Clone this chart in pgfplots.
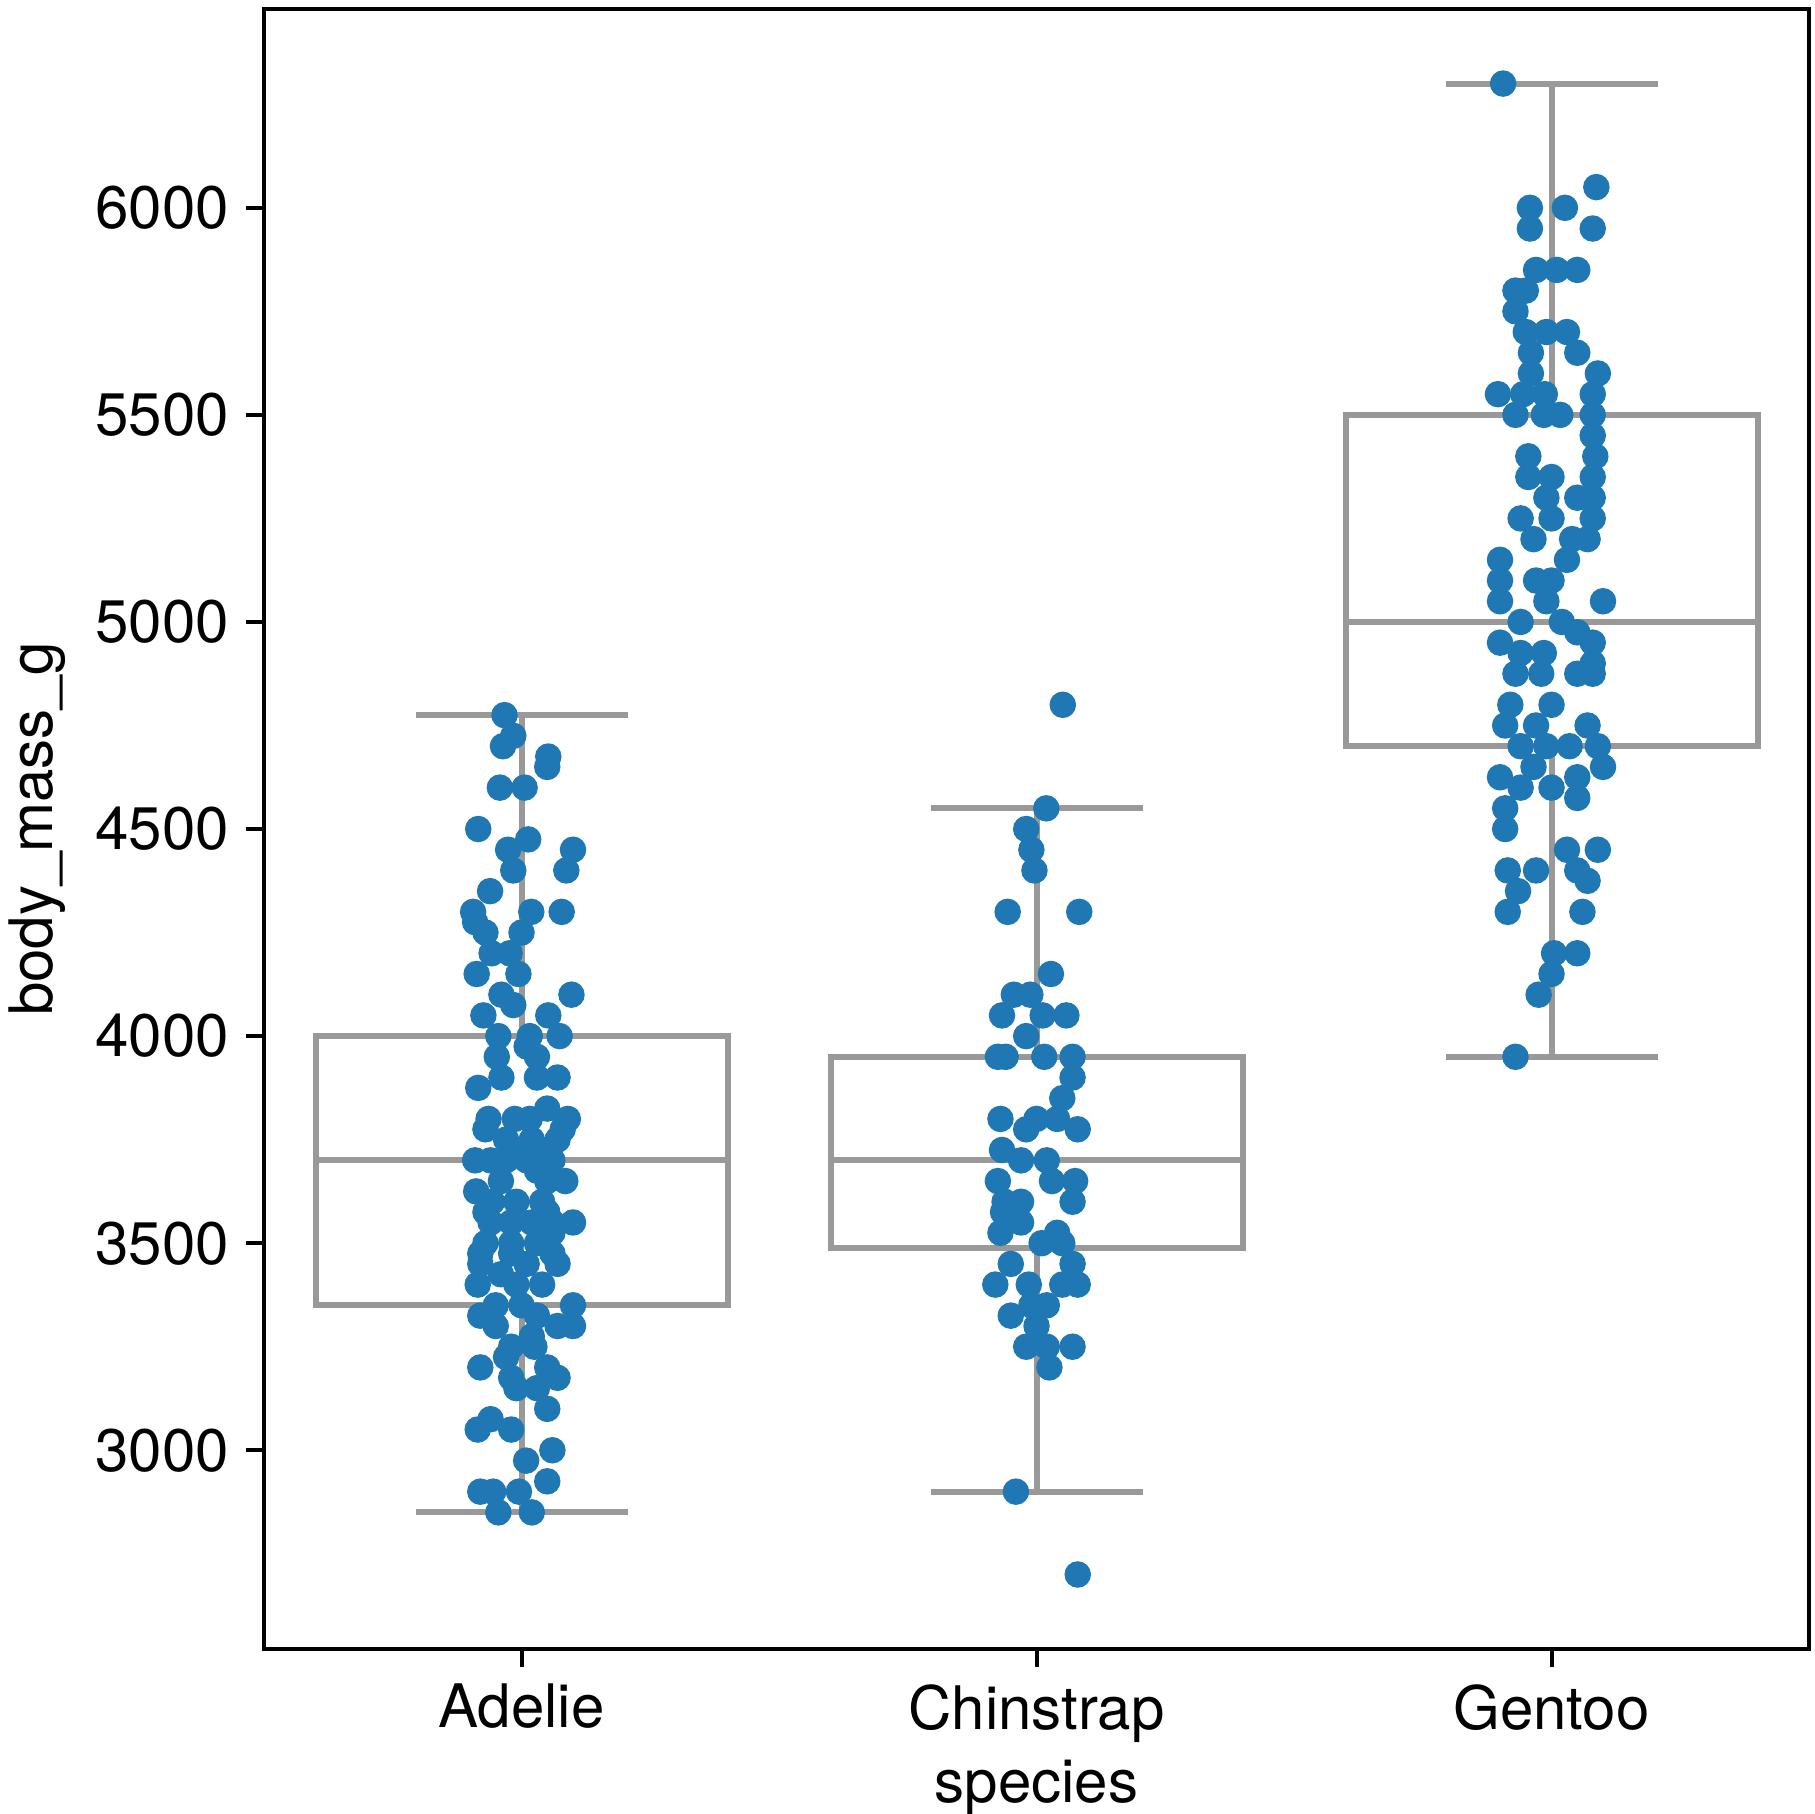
\documentclass[border=0pt]{standalone}
\usepackage{pgfplots}
\usepackage{pgfplotstable}
\pgfplotsset{compat=1.18}
\usepackage{fontspec}
\setmainfont{TeX Gyre Heros}
\definecolor{sbblue}{HTML}{1F77B4}
\definecolor{boxgray}{HTML}{999999}

\pgfplotstableread{
x y
-0.033 4775
-0.016 4725
-0.036 4700
0.052 4675
0.050 4650
-0.042 4600
0.006 4600
-0.084 4500
0.013 4475
-0.026 4450
0.100 4450
-0.016 4400
0.087 4400
-0.061 4350
-0.094 4300
0.019 4300
0.078 4300
-0.090 4275
-0.070 4250
0.000 4250
-0.058 4200
-0.023 4200
-0.087 4150
-0.006 4150
-0.039 4100
0.097 4100
-0.016 4075
-0.074 4050
0.052 4050
-0.045 4000
0.016 4000
0.074 4000
-0.048 3950
-0.039 3900
0.010 3975
0.030 3950
0.030 3900
0.070 3900
-0.084 3875
0.050 3825
-0.064 3800
-0.013 3800
0.016 3800
0.090 3800
-0.070 3775
0.080 3775
0.020 3750
0.070 3750
-0.030 3750
0.040 3725
-0.010 3725
-0.090 3700
-0.060 3700
-0.030 3700
0.010 3700
0.060 3700
0.030 3675
0.085 3650
-0.040 3650
0.050 3650
-0.088 3625
-0.057 3600
-0.010 3600
0.040 3600
-0.070 3575
0.050 3575
-0.060 3550
-0.020 3550
0.020 3550
0.100 3550
0.060 3550
0.060 3525
-0.070 3500
-0.020 3500
0.030 3500
-0.080 3475
0.060 3475
-0.020 3475
-0.080 3450
0.010 3450
0.070 3450
-0.040 3425
-0.085 3400
-0.010 3400
0.040 3400
-0.050 3350
0.000 3350
0.100 3350
-0.080 3325
0.030 3325
-0.050 3300
0.070 3300
0.100 3300
0.020 3275
-0.020 3250
0.025 3250
-0.030 3225
-0.080 3200
0.050 3200
-0.020 3175
0.070 3175
-0.010 3150
0.030 3150
0.050 3100
-0.060 3075
-0.085 3050
-0.020 3050
0.060 3000
0.009 2975
0.050 2925
-0.080 2900
-0.055 2900
-0.005 2900
-0.045 2850
0.020 2850
}\adelie

\pgfplotstableread{
x y
1.051 4800
1.019 4550
0.980 4500
0.990 4450
0.996 4400
0.944 4300
1.083 4300
1.028 4150
0.956 4100
0.988 4100
0.933 4050
1.012 4050
1.058 4050
0.980 4000
0.925 3950
0.940 3950
1.015 3950
1.070 3950
1.070 3900
1.050 3850
0.930 3800
1.000 3800
1.040 3800
1.080 3775
0.980 3775
0.933 3725
0.970 3700
1.020 3700
0.925 3650
1.030 3650
1.075 3650
0.938 3600
0.970 3600
1.070 3600
0.935 3575
0.970 3550
0.930 3525
1.040 3525
1.010 3500
1.050 3500
0.950 3450
1.070 3450
0.920 3400
0.985 3400
1.050 3400
1.080 3400
1.020 3350
0.990 3350
0.950 3325
1.000 3300
0.980 3250
1.020 3250
1.070 3250
1.025 3200
0.960 2900
1.080 2700
}\chinstrap

\pgfplotstableread{
x y
1.906 6300
2.087 6050
1.958 6000
2.026 6000
1.958 5950
2.080 5950
1.970 5850
2.010 5850
2.050 5850
1.930 5800
1.950 5800
1.930 5750
1.950 5700
1.990 5700
2.030 5700
2.050 5650
1.960 5650
2.090 5600
1.960 5600
1.896 5550
1.945 5550
1.987 5550
2.080 5550
1.930 5500
1.985 5500
2.017 5500
2.080 5500
2.080 5450
1.955 5400
2.085 5400
1.955 5350
2.000 5350
2.080 5350
1.990 5300
2.050 5300
2.080 5300
1.940 5250
2.000 5250
2.080 5250
1.965 5200
2.040 5200
2.070 5200
2.030 5150
1.900 5150
1.900 5100
1.970 5100
2.000 5100
1.900 5050
1.990 5050
2.100 5050
1.940 5000
2.020 5000
2.050 4975
1.900 4950
1.985 4925
1.940 4925
2.080 4950
1.930 4875
1.980 4875
2.080 4900
2.080 4875
2.050 4875
1.920 4800
2.000 4800
1.910 4750
1.970 4750
2.070 4750
1.940 4700
1.990 4700
2.035 4700
2.090 4700
1.965 4650
2.100 4650
1.900 4625
1.940 4600
2.000 4600
2.050 4625
2.050 4575
1.910 4550
1.910 4500
2.030 4450
2.090 4450
1.915 4400
1.970 4400
2.050 4400
2.070 4375
1.935 4350
1.915 4300
2.060 4300
2.005 4200
2.050 4200
2.000 4150
1.975 4100
1.930 3950
}\gentoo

\begin{document}
\begin{tikzpicture}
\begin{axis}[
  at={(0,0)}, anchor=south west,
  scale only axis, width=309pt, height=328pt,
  xmin=-0.5, xmax=2.5, ymin=2520, ymax=6480,
  xtick={0,1,2}, xticklabels={Adelie,Chinstrap,Gentoo},
  ytick={3000,3500,4000,4500,5000,5500,6000},
  scaled y ticks=false,
  /pgf/number format/1000 sep={},
  /pgf/number format/assume math mode=true,
  tick pos=left, tick align=outside,
  major tick length=3.5pt,
  tick style={black, line width=0.8pt},
  axis line style={black, line width=0.9pt},
  ticklabel style={font=\fontsize{12}{14.4}\selectfont},
  xlabel={species}, ylabel={body\_mass\_g},
  every axis x label/.style={at={(axis description cs:0.5,-0.0933)}, anchor=base, font=\fontsize{12}{14.4}\selectfont},
  every axis y label/.style={at={(axis description cs:-0.1470,0.5)}, rotate=90, anchor=center, font=\fontsize{12}{14.4}\selectfont},
  boxl/.style={draw=boxgray, line width=1.2pt, line cap=rect},
]
% Adelie box
\addplot[boxl, fill=white] coordinates {(-0.4,3350) (0.4,3350) (0.4,4000) (-0.4,4000) (-0.4,3350)};
\addplot[boxl] coordinates {(-0.4,3700) (0.4,3700)};
\addplot[boxl] coordinates {(0,3350) (0,2850)};
\addplot[boxl] coordinates {(0,4000) (0,4775)};
\addplot[boxl] coordinates {(-0.2,2850) (0.2,2850)};
\addplot[boxl] coordinates {(-0.2,4775) (0.2,4775)};
% Chinstrap box
\addplot[boxl, fill=white] coordinates {(0.6,3487.5) (1.4,3487.5) (1.4,3950) (0.6,3950) (0.6,3487.5)};
\addplot[boxl] coordinates {(0.6,3700) (1.4,3700)};
\addplot[boxl] coordinates {(1,3487.5) (1,2900)};
\addplot[boxl] coordinates {(1,3950) (1,4550)};
\addplot[boxl] coordinates {(0.8,2900) (1.2,2900)};
\addplot[boxl] coordinates {(0.8,4550) (1.2,4550)};
% Gentoo box
\addplot[boxl, fill=white] coordinates {(1.6,4700) (2.4,4700) (2.4,5500) (1.6,5500) (1.6,4700)};
\addplot[boxl] coordinates {(1.6,5000) (2.4,5000)};
\addplot[boxl] coordinates {(2,4700) (2,3950)};
\addplot[boxl] coordinates {(2,5500) (2,6300)};
\addplot[boxl] coordinates {(1.8,3950) (2.2,3950)};
\addplot[boxl] coordinates {(1.8,6300) (2.2,6300)};

\addplot[only marks, mark=*, mark size=2.5pt, mark options={fill=sbblue, draw=sbblue, line width=0.3pt}] table[x=x, y=y] {\adelie};
\addplot[only marks, mark=*, mark size=2.5pt, mark options={fill=sbblue, draw=sbblue, line width=0.3pt}] table[x=x, y=y] {\chinstrap};
\addplot[only marks, mark=*, mark size=2.5pt, mark options={fill=sbblue, draw=sbblue, line width=0.3pt}] table[x=x, y=y] {\gentoo};
\end{axis}
\pgfresetboundingbox
\path[use as bounding box] (-52.8pt,-32.8pt) rectangle (310.2pt,329.8pt);
\end{tikzpicture}
\end{document}
